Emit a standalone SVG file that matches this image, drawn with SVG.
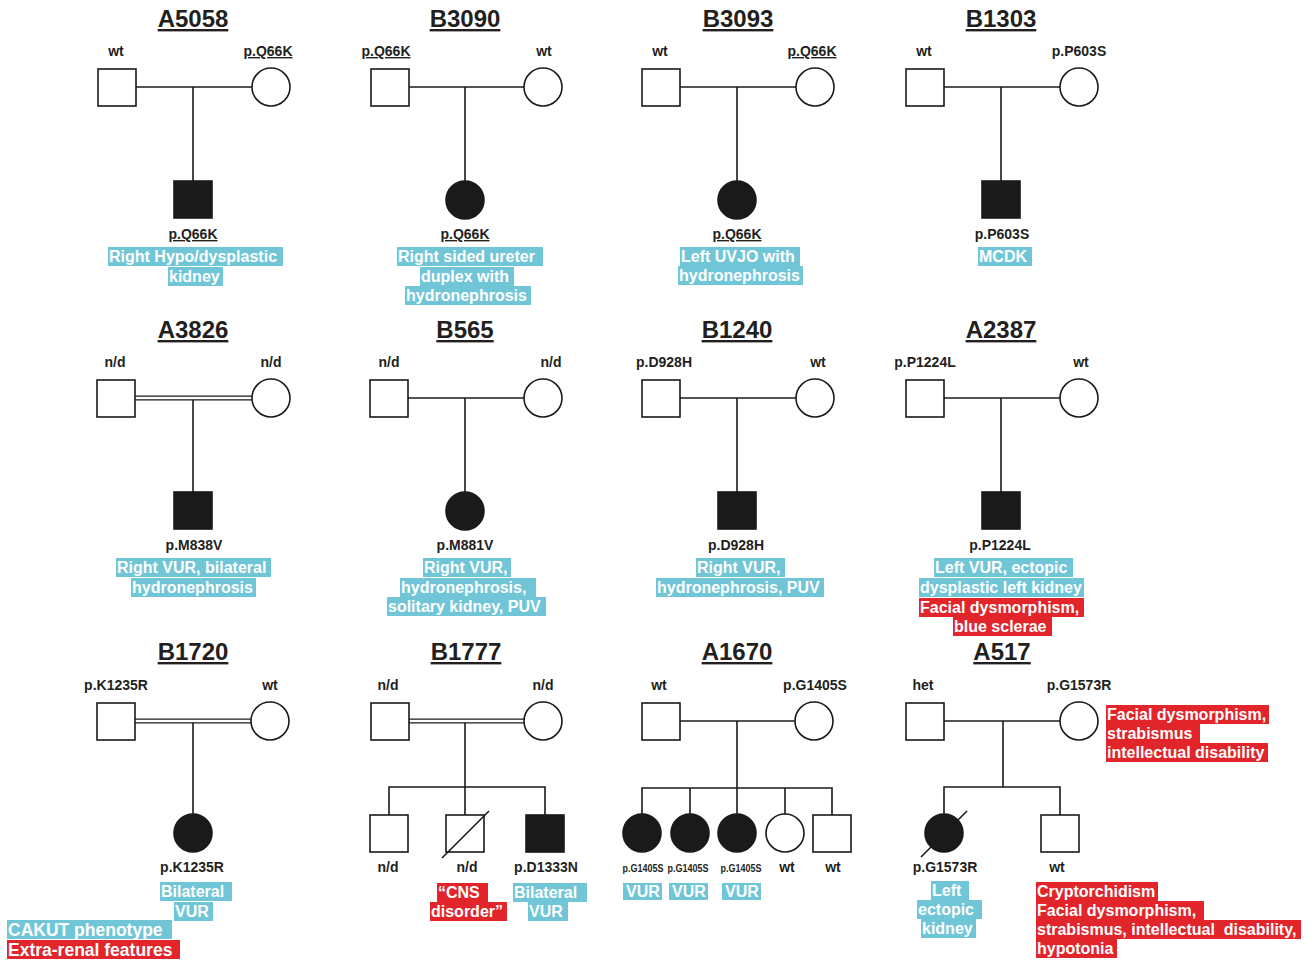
<svg xmlns="http://www.w3.org/2000/svg" width="1316" height="963" viewBox="0 0 1316 963">
<style>
.ln{stroke:#1a1a1a;stroke-width:1.6;fill:none}
.dl{stroke:#1a1a1a;stroke-width:1.2;fill:none}
.sym{fill:#fff;stroke:#1a1a1a;stroke-width:1.6}
.aff{fill:#1a1a1a;stroke:#1a1a1a;stroke-width:1.6}
text{font-family:"Liberation Sans",Arial,sans-serif;font-weight:bold}
.t{font-size:14px;fill:#231f20;text-anchor:middle}
.u{text-decoration:underline}
.ti{font-size:24px;fill:#231f20;text-anchor:middle;text-decoration:underline}
.sm{font-size:10.5px;fill:#231f20;text-anchor:middle}
.ph{font-size:16px;fill:#fff;text-anchor:start}
.lg{font-size:17.5px;fill:#fff;text-anchor:start}
.b{fill:#70c6d7}
.r{fill:#e1252b}
</style>
<rect width="1316" height="963" fill="#fff"/>

<g id="connectors">
<line class="ln" x1="136" y1="87" x2="252" y2="87"/><line class="ln" x1="193" y1="87" x2="193" y2="181"/>
<line class="ln" x1="409" y1="87" x2="524" y2="87"/><line class="ln" x1="465" y1="87" x2="465" y2="181"/>
<line class="ln" x1="680" y1="87" x2="796" y2="87"/><line class="ln" x1="737" y1="87" x2="737" y2="181"/>
<line class="ln" x1="944" y1="87" x2="1060" y2="87"/><line class="ln" x1="1001" y1="87" x2="1001" y2="181"/>
<line class="dl" x1="135" y1="396.2" x2="252" y2="396.2"/><line class="dl" x1="135" y1="399.8" x2="252" y2="399.8"/><line class="ln" x1="193" y1="399.8" x2="193" y2="492"/>
<line class="ln" x1="408" y1="398" x2="524" y2="398"/><line class="ln" x1="465" y1="398" x2="465" y2="492"/>
<line class="ln" x1="680" y1="398" x2="796" y2="398"/><line class="ln" x1="737" y1="398" x2="737" y2="492"/>
<line class="ln" x1="944" y1="398" x2="1060" y2="398"/><line class="ln" x1="1001" y1="398" x2="1001" y2="492"/>
<line class="dl" x1="135" y1="719.2" x2="251" y2="719.2"/><line class="dl" x1="135" y1="722.8" x2="251" y2="722.8"/><line class="ln" x1="193" y1="722.8" x2="193" y2="814"/>
<line class="dl" x1="409" y1="719.2" x2="524" y2="719.2"/><line class="dl" x1="409" y1="722.8" x2="524" y2="722.8"/><line class="ln" x1="465" y1="722.8" x2="465" y2="787"/>
<path class="ln" d="M389,815 V787 H545 V815 M465,787 V815"/>
<line class="ln" x1="680" y1="721" x2="795" y2="721"/><line class="ln" x1="737" y1="721" x2="737" y2="788"/>
<path class="ln" d="M642,814 V788 H832 V815 M690,788 V814 M737,788 V814 M785,788 V814"/>
<line class="ln" x1="944" y1="721" x2="1060" y2="721"/><line class="ln" x1="1003" y1="721" x2="1003" y2="787"/>
<path class="ln" d="M944,814 V787 H1060 V815"/>
</g>

<g id="A5058">
<text class="ti" x="193" y="27">A5058</text>
<g id="A5058-father"><rect class="sym" x="98" y="69" width="38" height="37"/><text class="t" x="116" y="56">wt</text></g>
<g id="A5058-mother"><circle class="sym" cx="271" cy="87" r="19"/><text class="t u" x="268" y="56">p.Q66K</text></g>
<g id="A5058-child"><rect class="aff" x="174" y="181" width="38" height="37"/><text class="t u" x="193" y="239">p.Q66K</text>
<rect class="b" x="108" y="247" width="175" height="19"/><text class="ph" x="109" y="262">Right Hypo/dysplastic</text>
<rect class="b" x="168" y="267" width="55" height="19"/><text class="ph" x="169" y="282">kidney</text></g>
</g>

<g id="B3090">
<text class="ti" x="465" y="27">B3090</text>
<g id="B3090-father"><rect class="sym" x="371" y="69" width="38" height="37"/><text class="t u" x="386" y="56">p.Q66K</text></g>
<g id="B3090-mother"><circle class="sym" cx="543" cy="87" r="19"/><text class="t" x="544" y="56">wt</text></g>
<g id="B3090-child"><circle class="aff" cx="465" cy="200" r="19"/><text class="t u" x="465" y="239">p.Q66K</text>
<rect class="b" x="397" y="247" width="146" height="19"/><text class="ph" x="398" y="262">Right sided ureter</text>
<rect class="b" x="420" y="267" width="94" height="19"/><text class="ph" x="421" y="282">duplex with</text>
<rect class="b" x="405" y="286" width="126" height="19"/><text class="ph" x="406" y="301">hydronephrosis</text></g>
</g>

<g id="B3093">
<text class="ti" x="738" y="27">B3093</text>
<g id="B3093-father"><rect class="sym" x="642" y="69" width="38" height="37"/><text class="t" x="660" y="56">wt</text></g>
<g id="B3093-mother"><circle class="sym" cx="815" cy="87" r="19"/><text class="t u" x="812" y="56">p.Q66K</text></g>
<g id="B3093-child"><circle class="aff" cx="737" cy="200" r="19"/><text class="t u" x="737" y="239">p.Q66K</text>
<rect class="b" x="680" y="247" width="120" height="19"/><text class="ph" x="681" y="262">Left UVJO with</text>
<rect class="b" x="678" y="266" width="125" height="19"/><text class="ph" x="679" y="281">hydronephrosis</text></g>
</g>

<g id="B1303">
<text class="ti" x="1001" y="27">B1303</text>
<g id="B1303-father"><rect class="sym" x="906" y="69" width="38" height="37"/><text class="t" x="924" y="56">wt</text></g>
<g id="B1303-mother"><circle class="sym" cx="1079" cy="87" r="19"/><text class="t" x="1079" y="56">p.P603S</text></g>
<g id="B1303-child"><rect class="aff" x="982" y="181" width="38" height="37"/><text class="t" x="1002" y="239">p.P603S</text>
<rect class="b" x="978" y="247" width="54" height="19"/><text class="ph" x="979" y="262">MCDK</text></g>
</g>

<g id="A3826">
<text class="ti" x="193" y="338">A3826</text>
<g id="A3826-father"><rect class="sym" x="97" y="380" width="38" height="37"/><text class="t" x="115" y="367">n/d</text></g>
<g id="A3826-mother"><circle class="sym" cx="271" cy="398" r="19"/><text class="t" x="271" y="367">n/d</text></g>
<g id="A3826-child"><rect class="aff" x="174" y="492" width="38" height="37"/><text class="t" x="194" y="550">p.M838V</text>
<rect class="b" x="116" y="558" width="155" height="19"/><text class="ph" x="117" y="573">Right VUR, bilateral</text>
<rect class="b" x="131" y="578" width="125" height="19"/><text class="ph" x="132" y="593">hydronephrosis</text></g>
</g>

<g id="B565">
<text class="ti" x="465" y="338">B565</text>
<g id="B565-father"><rect class="sym" x="370" y="380" width="38" height="37"/><text class="t" x="389" y="367">n/d</text></g>
<g id="B565-mother"><circle class="sym" cx="543" cy="398" r="19"/><text class="t" x="551" y="367">n/d</text></g>
<g id="B565-child"><circle class="aff" cx="465" cy="511" r="19"/><text class="t" x="465" y="550">p.M881V</text>
<rect class="b" x="423" y="558" width="88" height="19"/><text class="ph" x="424" y="573">Right VUR,</text>
<rect class="b" x="400" y="578" width="136" height="19"/><text class="ph" x="401" y="593">hydronephrosis,</text>
<rect class="b" x="387" y="597" width="159" height="19"/><text class="ph" x="388" y="612">solitary kidney, PUV</text></g>
</g>

<g id="B1240">
<text class="ti" x="737" y="338">B1240</text>
<g id="B1240-father"><rect class="sym" x="642" y="380" width="38" height="37"/><text class="t" x="664" y="367">p.D928H</text></g>
<g id="B1240-mother"><circle class="sym" cx="815" cy="398" r="19"/><text class="t" x="818" y="367">wt</text></g>
<g id="B1240-child"><rect class="aff" x="718" y="492" width="38" height="37"/><text class="t" x="736" y="550">p.D928H</text>
<rect class="b" x="696" y="558" width="89" height="19"/><text class="ph" x="697" y="573">Right VUR,</text>
<rect class="b" x="656" y="578" width="168" height="19"/><text class="ph" x="657" y="593">hydronephrosis, PUV</text></g>
</g>

<g id="A2387">
<text class="ti" x="1001" y="338">A2387</text>
<g id="A2387-father"><rect class="sym" x="906" y="380" width="38" height="37"/><text class="t" x="925" y="367">p.P1224L</text></g>
<g id="A2387-mother"><circle class="sym" cx="1079" cy="398" r="19"/><text class="t" x="1081" y="367">wt</text></g>
<g id="A2387-child"><rect class="aff" x="982" y="492" width="38" height="37"/><text class="t" x="1000" y="550">p.P1224L</text>
<rect class="b" x="934" y="558" width="139" height="19"/><text class="ph" x="935" y="573">Left VUR, ectopic</text>
<rect class="b" x="919" y="578" width="165" height="19"/><text class="ph" x="920" y="593">dysplastic left kidney</text>
<rect class="r" x="919" y="598" width="165" height="19"/><text class="ph" x="920" y="613">Facial dysmorphism,</text>
<rect class="r" x="953" y="617" width="99" height="19"/><text class="ph" x="954" y="632">blue sclerae</text></g>
</g>

<g id="B1720">
<text class="ti" x="193" y="660">B1720</text>
<g id="B1720-father"><rect class="sym" x="97" y="703" width="38" height="37"/><text class="t" x="116" y="690">p.K1235R</text></g>
<g id="B1720-mother"><circle class="sym" cx="270" cy="721" r="19"/><text class="t" x="270" y="690">wt</text></g>
<g id="B1720-child"><circle class="aff" cx="193" cy="833" r="19"/><text class="t" x="192" y="872">p.K1235R</text>
<rect class="b" x="160" y="882" width="72" height="19"/><text class="ph" x="161" y="897">Bilateral</text>
<rect class="b" x="174" y="902" width="39" height="19"/><text class="ph" x="175" y="917">VUR</text></g>
</g>

<g id="B1777">
<text class="ti" x="466" y="660">B1777</text>
<g id="B1777-father"><rect class="sym" x="371" y="703" width="38" height="37"/><text class="t" x="388" y="690">n/d</text></g>
<g id="B1777-mother"><circle class="sym" cx="543" cy="721" r="19"/><text class="t" x="543" y="690">n/d</text></g>
<g id="B1777-child1"><rect class="sym" x="370" y="815" width="38" height="37"/><text class="t" x="388" y="872">n/d</text></g>
<g id="B1777-child2"><rect class="sym" x="446" y="815" width="38" height="37"/><line class="ln" x1="442" y1="858" x2="489" y2="811"/><text class="t" x="467" y="872">n/d</text>
<rect class="r" x="437" y="883" width="51" height="19"/><text class="ph" x="438" y="898">“CNS</text>
<rect class="r" x="430" y="902" width="77" height="19"/><text class="ph" x="431" y="917">disorder”</text></g>
<g id="B1777-child3"><rect class="aff" x="526" y="815" width="38" height="37"/><text class="t" x="546" y="872">p.D1333N</text>
<rect class="b" x="513" y="883" width="74" height="19"/><text class="ph" x="514" y="898">Bilateral</text>
<rect class="b" x="528" y="902" width="40" height="19"/><text class="ph" x="529" y="917">VUR</text></g>
</g>

<g id="A1670">
<text class="ti" x="737" y="660">A1670</text>
<g id="A1670-father"><rect class="sym" x="642" y="703" width="38" height="37"/><text class="t" x="659" y="690">wt</text></g>
<g id="A1670-mother"><circle class="sym" cx="814" cy="721" r="19"/><text class="t" x="815" y="690">p.G1405S</text></g>
<g id="A1670-child1"><circle class="aff" cx="642" cy="833" r="19"/><text class="sm" x="643" y="872" textLength="41" lengthAdjust="spacingAndGlyphs">p.G1405S</text>
<rect class="b" x="623" y="883" width="39" height="17"/><text class="ph" x="626" y="897">VUR</text></g>
<g id="A1670-child2"><circle class="aff" cx="690" cy="833" r="19"/><text class="sm" x="688" y="872" textLength="41" lengthAdjust="spacingAndGlyphs">p.G1405S</text>
<rect class="b" x="669" y="883" width="39" height="17"/><text class="ph" x="672" y="897">VUR</text></g>
<g id="A1670-child3"><circle class="aff" cx="737" cy="833" r="19"/><text class="sm" x="741" y="872" textLength="41" lengthAdjust="spacingAndGlyphs">p.G1405S</text>
<rect class="b" x="722" y="883" width="39" height="17"/><text class="ph" x="725" y="897">VUR</text></g>
<g id="A1670-child4"><circle class="sym" cx="785" cy="833" r="19"/><text class="t" x="787" y="872">wt</text></g>
<g id="A1670-child5"><rect class="sym" x="813" y="815" width="38" height="37"/><text class="t" x="833" y="872">wt</text></g>
</g>

<g id="A517">
<text class="ti" x="1002" y="660">A517</text>
<g id="A517-father"><rect class="sym" x="906" y="703" width="38" height="37"/><text class="t" x="923" y="690">het</text></g>
<g id="A517-mother"><circle class="sym" cx="1079" cy="721" r="19"/><text class="t" x="1079" y="690">p.G1573R</text>
<rect class="r" x="1106" y="705" width="163" height="19"/><text class="ph" x="1107" y="720">Facial dysmorphism,</text>
<rect class="r" x="1106" y="724" width="94" height="19"/><text class="ph" x="1107" y="739">strabismus</text>
<rect class="r" x="1106" y="743" width="162" height="19"/><text class="ph" x="1107" y="758">intellectual disability</text></g>
<g id="A517-child1"><circle class="aff" cx="944" cy="833" r="19"/><line class="ln" x1="921" y1="857" x2="967" y2="811"/><text class="t" x="945" y="872">p.G1573R</text>
<rect class="b" x="931" y="881" width="38" height="19"/><text class="ph" x="932" y="896">Left</text>
<rect class="b" x="917" y="900" width="65" height="19"/><text class="ph" x="918" y="915">ectopic</text>
<rect class="b" x="921" y="919" width="55" height="19"/><text class="ph" x="922" y="934">kidney</text></g>
<g id="A517-child2"><rect class="sym" x="1041" y="815" width="38" height="37"/><text class="t" x="1057" y="872">wt</text>
<rect class="r" x="1036" y="882" width="122" height="19"/><text class="ph" x="1037" y="897">Cryptorchidism</text>
<rect class="r" x="1036" y="901" width="168" height="19"/><text class="ph" x="1037" y="916">Facial dysmorphism,</text>
<rect class="r" x="1036" y="920" width="265" height="19"/><text class="ph" x="1037" y="935">strabismus, intellectual &#160;disability,</text>
<rect class="r" x="1036" y="939" width="81" height="19"/><text class="ph" x="1037" y="954">hypotonia</text></g>
</g>

<g id="legend">
<rect class="b" x="7" y="920" width="165" height="19"/><text class="lg" x="8" y="936">CAKUT phenotype</text>
<rect class="r" x="7" y="940" width="173" height="19"/><text class="lg" x="8" y="956">Extra-renal features</text>
</g>
</svg>
